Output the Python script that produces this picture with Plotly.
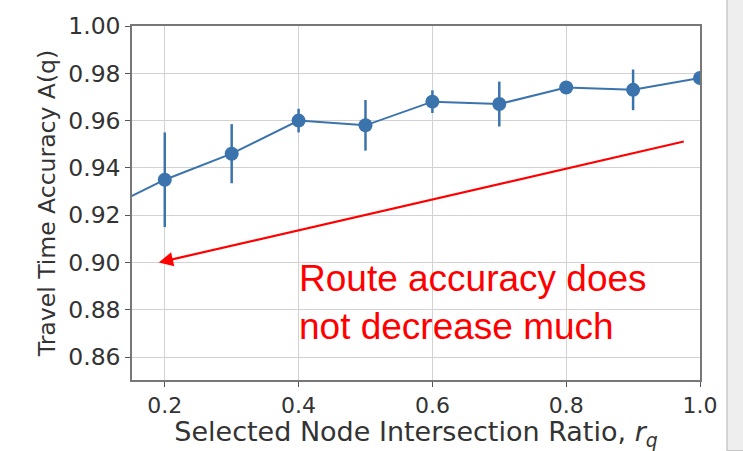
import plotly.graph_objects as go

# Selected node intersection ratio and the resulting travel time accuracy
ratio = [0.1, 0.2, 0.3, 0.4, 0.5, 0.6, 0.7, 0.8, 0.9, 1.0]
accuracy = [0.921, 0.935, 0.946, 0.960, 0.958, 0.968, 0.967, 0.974, 0.973, 0.978]
accuracy_err = [0.015, 0.020, 0.0125, 0.005, 0.0107, 0.0048, 0.0095, 0.0015, 0.0086, 0.0015]

x_ticks = [0.2, 0.4, 0.6, 0.8, 1.0]
x_tick_text = ["0.2", "0.4", "0.6", "0.8", "1.0"]
y_ticks = [0.86, 0.88, 0.90, 0.92, 0.94, 0.96, 0.98, 1.00]
y_tick_text = ["0.86", "0.88", "0.90", "0.92", "0.94", "0.96", "0.98", "1.00"]

# Callout arrow (tail -> head) and note text
arrow_tail = (0.978, 0.9513)
arrow_head = (0.191, 0.900)
note_pos = (0.399, 0.8832)
note_text = "Route accuracy does<br>not decrease much"

x_title = "Selected Node Intersection Ratio, <i>r<sub>q</sub></i>"
y_title = "Travel Time Accuracy A(q)"

blue = "#3b73ad"
text_grey = "#333333"

fig = go.Figure()
fig.add_trace(go.Scatter(
    x=ratio, y=accuracy, mode="lines+markers",
    line=dict(color=blue, width=2),
    marker=dict(color=blue, size=14),
    error_y=dict(type="data", array=accuracy_err, visible=True,
                 color=blue, thickness=2.5, width=0),
    showlegend=False,
))

fig.add_annotation(
    x=arrow_head[0], y=arrow_head[1], ax=arrow_tail[0], ay=arrow_tail[1],
    xref="x", yref="y", axref="x", ayref="y",
    text="", showarrow=True, arrowhead=2, arrowsize=1.3,
    arrowwidth=2.2, arrowcolor="#ff0000",
)
fig.add_annotation(
    x=note_pos[0], y=note_pos[1], xref="x", yref="y",
    text=note_text, showarrow=False, xanchor="left", yanchor="middle",
    align="left", borderpad=0,
    font=dict(family="Liberation Sans", size=37, color="#ff0000"),
)

# Neighbouring panel edge at the right of the canvas
fig.add_shape(type="rect", xref="paper", yref="paper",
              x0=1.0475, x1=1.09, y0=-0.2, y1=1.1,
              fillcolor="#eeeeee", line=dict(color="#c8c8c8", width=1.5),
              layer="below")

fig.update_layout(
    width=743, height=451,
    margin=dict(l=132, r=43, t=19, b=62),
    paper_bgcolor="white", plot_bgcolor="white",
    xaxis=dict(
        range=[0.151, 1.0], tickvals=x_ticks, ticktext=x_tick_text,
        showgrid=True, gridcolor="#d2d2d2", gridwidth=1,
        showline=True, linecolor="#777777", linewidth=1.5, mirror=True,
        ticks="outside", ticklen=5, tickcolor="#555555",
        tickfont=dict(family="DejaVu Sans", size=22, color=text_grey),
        zeroline=False,
        title=dict(text=x_title,
                   font=dict(family="DejaVu Sans", size=27, color=text_grey),
                   standoff=2),
    ),
    yaxis=dict(
        range=[0.8503, 1.0], tickvals=y_ticks, ticktext=y_tick_text,
        showgrid=True, gridcolor="#d2d2d2", gridwidth=1,
        showline=True, linecolor="#777777", linewidth=1.5, mirror=True,
        ticks="outside", ticklen=5, tickcolor="#555555",
        tickfont=dict(family="DejaVu Sans", size=23.5, color=text_grey),
        zeroline=False,
        title=dict(text=y_title,
                   font=dict(family="DejaVu Sans", size=23.5, color=text_grey),
                   standoff=6),
    ),
)

fig.write_html("out.html")
